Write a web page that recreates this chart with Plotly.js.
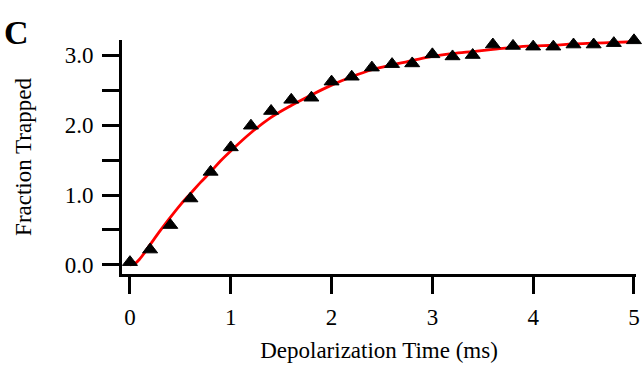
<!DOCTYPE html>
<html>
<head>
<meta charset="utf-8">
<script src="https://cdn.plot.ly/plotly-3.0.1.min.js"></script>
<style>
html,body{margin:0;padding:0;background:#fff;}
#chart{width:644px;height:372px;}
</style>
</head>
<body>
<div id="chart"></div>
<script>
// Measured data points (triangles)
var timeMs = [0, 0.2, 0.4, 0.6, 0.8, 1.0, 1.2, 1.4, 1.6, 1.8, 2.0, 2.2, 2.4, 2.6, 2.8, 3.0, 3.2, 3.4, 3.6, 3.8, 4.0, 4.2, 4.4, 4.6, 4.8, 5.0];
var fractionTrapped = [0.04, 0.22, 0.57, 0.95, 1.33, 1.68, 1.99, 2.20, 2.36, 2.39, 2.62, 2.69, 2.82, 2.87, 2.88, 3.01, 2.98, 3.00, 3.15, 3.13, 3.12, 3.12, 3.15, 3.15, 3.17, 3.21];

// Fitted curve (red)
var fitTime = [0, 0.05, 0.1, 0.2, 0.3, 0.4, 0.5, 0.6, 0.7, 0.8, 0.9, 1.0, 1.2, 1.4, 1.6, 1.8, 2.0, 2.2, 2.4, 2.6, 2.8, 3.0, 3.2, 3.4, 3.6, 3.8, 4.0, 4.2, 4.4, 4.6, 4.8, 5.0];
var fitValue = [0, 0.02, 0.09, 0.29, 0.49, 0.68, 0.86, 1.02, 1.18, 1.33, 1.49, 1.63, 1.89, 2.11, 2.28, 2.43, 2.57, 2.69, 2.79, 2.86, 2.92, 2.98, 3.02, 3.05, 3.08, 3.11, 3.13, 3.14, 3.16, 3.17, 3.18, 3.19];

// Tick labels
var yTickVals = [0, 0.5, 1, 1.5, 2, 2.5, 3];
var yTickText = ["0.0", "", "1.0", "", "2.0", "", "3.0"];
var xTickVals = [0, 1, 2, 3, 4, 5];
var xTickText = ["0", "1", "2", "3", "4", "5"];

var fontFam = "Liberation Serif, Times New Roman, serif";

var traces = [
  {
    x: fitTime, y: fitValue, type: "scatter", mode: "lines",
    line: {color: "#ff0000", width: 2.8, shape: "spline"},
    hoverinfo: "skip"
  },
  {
    x: timeMs, y: fractionTrapped, type: "scatter", mode: "markers",
    marker: {symbol: "triangle-up", size: 13, color: "#000", line: {color: "#000", width: 1}},
    cliponaxis: false
  }
];

var layout = {
  width: 644, height: 372,
  margin: {l: 122, r: 8, t: 40, b: 98},
  paper_bgcolor: "#fff", plot_bgcolor: "#fff",
  showlegend: false,
  font: {family: fontFam, size: 23, color: "#000"},
  xaxis: {
    range: [-0.079, 5.02],
    tickvals: xTickVals, ticktext: xTickText,
    showgrid: false, zeroline: false,
    showline: true, linecolor: "#000", linewidth: 3,
    ticks: "outside", ticklen: 17, tickwidth: 3, tickcolor: "#000",
    ticklabelstandoff: 3,
    tickfont: {family: fontFam, size: 23, color: "#000"},
    title: {text: "Depolarization Time (ms)", font: {family: fontFam, size: 23, color: "#000"}, standoff: 14}
  },
  yaxis: {
    range: [-0.129, 3.215],
    tickvals: yTickVals, ticktext: yTickText,
    showgrid: false, zeroline: false,
    showline: true, linecolor: "#000", linewidth: 3,
    ticks: "outside", ticklen: 17, tickwidth: 3, tickcolor: "#000",
    ticklabelstandoff: 4,
    tickfont: {family: fontFam, size: 23, color: "#000"},
    title: {text: "Fraction Trapped", font: {family: fontFam, size: 23, color: "#000"}, standoff: 27}
  },
  annotations: [{
    text: "<b>C</b>", xref: "paper", yref: "paper",
    x: -0.233, y: 1.12, xanchor: "left", yanchor: "top", showarrow: false,
    font: {family: fontFam, size: 34, color: "#000"}
  }]
};

Plotly.newPlot("chart", traces, layout, {staticPlot: true, displayModeBar: false});
</script>
</body>
</html>
